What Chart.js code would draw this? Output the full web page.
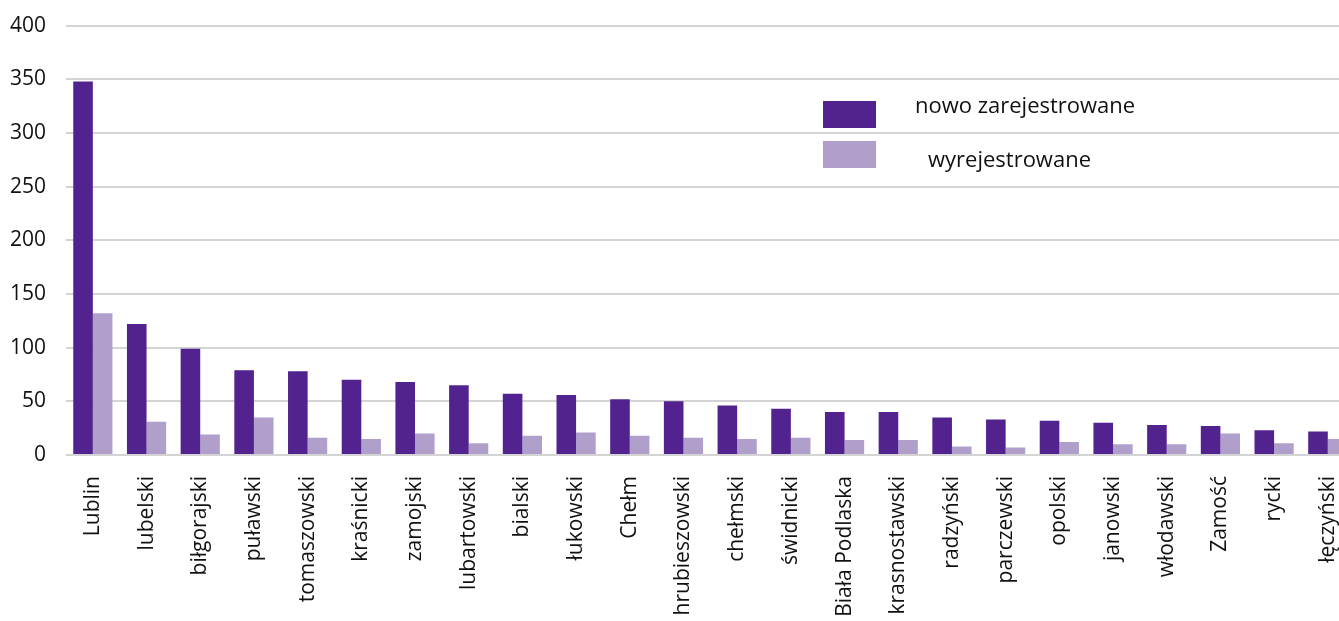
<!DOCTYPE html>
<html>
<head>
<meta charset="utf-8">
<script src="https://cdn.jsdelivr.net/npm/chart.js@4/dist/chart.umd.min.js"></script>
<style>
  html, body { margin: 0; padding: 0; background: #fff; overflow: hidden; }
  #c { position: absolute; left: 0; top: -7px; width: 1366px; height: 707px; }
</style>
</head>
<body>
<canvas id="c" width="1366" height="707"></canvas>
<script>
const categories = ["Lublin", "lubelski", "biłgorajski", "puławski", "tomaszowski", "kraśnicki",
  "zamojski", "lubartowski", "bialski", "łukowski", "Chełm", "hrubieszowski", "chełmski",
  "świdnicki", "Biała Podlaska", "krasnostawski", "radzyński", "parczewski", "opolski",
  "janowski", "włodawski", "Zamość", "rycki", "łęczyński"];
const registered = [348, 122, 99, 79, 78, 70, 68, 65, 57, 56, 52, 50, 46, 43, 40, 40, 35, 33, 32, 30, 28, 27, 23, 22];
const deregistered = [132, 31, 19, 35, 16, 15, 20, 11, 18, 21, 18, 16, 15, 16, 14, 14, 8, 7, 12, 10, 10, 20, 11, 15];
const seriesNames = ["nowo zarejestrowane", "wyrejestrowane"];
const yTicks = [0, 50, 100, 150, 200, 250, 300, 350, 400];

const FONT = "'Open Sans', sans-serif";
const DARK = "#52228f";
const LIGHT = "#b09fcb";
const TEXT = "#111";

// legend drawn inside the plot, like the original (canvas is shifted up 7px)
const innerLegend = {
  id: "innerLegend",
  afterDraw(chart) {
    const ctx = chart.ctx;
    ctx.save();
    ctx.font = "22px " + FONT;
    ctx.textBaseline = "middle";
    const textX = [915, 928];
    const textY = [114, 168];
    chart.data.datasets.forEach((ds, i) => {
      ctx.fillStyle = ds.backgroundColor;
      ctx.fillRect(823, 108 + i * 40, 53, 27);
      ctx.fillStyle = TEXT;
      ctx.fillText(ds.label, textX[i], textY[i]);
    });
    ctx.restore();
  }
};

new Chart(document.getElementById("c"), {
  type: "bar",
  data: {
    labels: categories,
    datasets: [
      { label: seriesNames[0], data: registered, backgroundColor: DARK,
        categoryPercentage: 0.73, barPercentage: 1.0 },
      { label: seriesNames[1], data: deregistered, backgroundColor: LIGHT,
        categoryPercentage: 0.73, barPercentage: 1.0 }
    ]
  },
  options: {
    responsive: false,
    maintainAspectRatio: false,
    devicePixelRatio: 1,
    animation: false,
    layout: { padding: { top: 19, left: 0, right: 0, bottom: 0 } },
    plugins: { legend: { display: false }, tooltip: { enabled: false } },
    scales: {
      x: {
        grid: { display: false },
        border: { display: false },
        ticks: {
          autoSkip: false, maxRotation: 90, minRotation: 90, padding: 13,
          color: TEXT, font: { family: FONT, size: 21 }
        },
        afterFit: s => { s.height = 245; }
      },
      y: {
        min: 0, max: 400,
        afterBuildTicks: s => { s.ticks = yTicks.map(v => ({ value: v })); },
        grid: { color: "#d4d4d4", lineWidth: 2, drawTicks: false },
        border: { display: false },
        ticks: { padding: 20, color: TEXT, font: { family: FONT, size: 21 } },
        afterFit: s => { s.width = 66; }
      }
    }
  },
  plugins: [innerLegend]
});
</script>
</body>
</html>
